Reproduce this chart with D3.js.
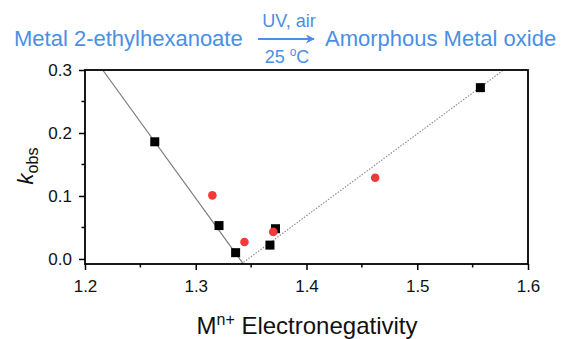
<!DOCTYPE html>
<html>
<head>
<meta charset="utf-8">
<script src="https://cdn.jsdelivr.net/npm/d3@7"></script>
<style>
  html, body { margin: 0; padding: 0; background: #fff; }
  svg { display: block; font-family: Arial, "Liberation Sans", sans-serif; }
</style>
</head>
<body>
<svg id="chart" width="561" height="339"></svg>
<script>
// Measured rate constants vs. metal-ion electronegativity
const squareX = [1.263, 1.321, 1.336, 1.367, 1.372, 1.557];
const squareY = [0.186, 0.053, 0.010, 0.022, 0.048, 0.272];
const circleX = [1.315, 1.344, 1.370, 1.462];
const circleY = [0.101, 0.027, 0.043, 0.129];

// Linear trend lines (endpoints in data units)
const fitLeftX = [1.216, 1.343];
const fitLeftY = [0.300, -0.008];
const fitRightX = [1.341, 1.578];
const fitRightY = [-0.008, 0.300];

const xTicks = [1.2, 1.3, 1.4, 1.5, 1.6];
const xMinor = [1.25, 1.35, 1.45, 1.55];
const yTicks = [0.0, 0.1, 0.2, 0.3];
const yMinor = [0.05, 0.15, 0.25];

const svg = d3.select("#chart");
const plotL = 85, plotR = 528, plotT = 70, plotB = 264;

const x = d3.scaleLinear().domain([1.2, 1.6]).range([plotL, plotR]);
const y = d3.scaleLinear().domain([-0.008, 0.3]).range([plotB, plotT]);

const blue = "#4a8fe3";

// Reaction scheme header
const head = svg.append("g").attr("fill", blue).style("font-size", "22px");
head.append("text").attr("x", 14).attr("y", 46).text("Metal 2-ethylhexanoate");
head.append("text").attr("x", 325).attr("y", 46).text("Amorphous Metal oxide");
head.append("text").attr("x", 289).attr("y", 27).attr("text-anchor", "middle")
  .style("font-size", "18px").text("UV, air");
const t25 = head.append("text").attr("x", 287).attr("y", 63).attr("text-anchor", "middle")
  .style("font-size", "18px");
t25.append("tspan").text("25 ");
t25.append("tspan").attr("dy", -7).style("font-size", "12px").text("o");
t25.append("tspan").attr("dy", 7).text("C");
svg.append("defs").append("marker")
  .attr("id", "arrowhead").attr("viewBox", "0 0 10 10")
  .attr("refX", 9).attr("refY", 5).attr("markerWidth", 11).attr("markerHeight", 9)
  .attr("markerUnits", "userSpaceOnUse").attr("orient", "auto")
  .append("path").attr("d", "M0,0 L10,5 L0,10 L3,5 Z").attr("fill", blue);
svg.append("line").attr("x1", 258).attr("x2", 314).attr("y1", 39).attr("y2", 39)
  .attr("stroke", blue).attr("stroke-width", 2).attr("marker-end", "url(#arrowhead)");

// Axes
const xAxis = d3.axisBottom(x).tickValues(xTicks).tickSize(6).tickPadding(10)
  .tickFormat(d3.format(".1f"));
const gx = svg.append("g").attr("transform", `translate(0,${plotB})`).call(xAxis);
const yAxis = d3.axisLeft(y).tickValues(yTicks).tickSize(6).tickPadding(7)
  .tickFormat(d3.format(".1f"));
const gy = svg.append("g").attr("transform", `translate(${plotL},0)`).call(yAxis);
[gx, gy].forEach(g => {
  g.select(".domain").remove();
  g.selectAll(".tick line").attr("stroke", "#000").attr("stroke-width", 1.5);
  g.selectAll(".tick text").attr("fill", "#111").style("font-size", "17px")
    .style("font-family", "Arial, 'Liberation Sans', sans-serif");
});
svg.append("g").selectAll("line").data(xMinor).join("line")
  .attr("x1", d => x(d)).attr("x2", d => x(d)).attr("y1", plotB).attr("y2", plotB + 3.5)
  .attr("stroke", "#000").attr("stroke-width", 1.5);
svg.append("g").selectAll("line").data(yMinor).join("line")
  .attr("x1", plotL).attr("x2", plotL - 3.5).attr("y1", d => y(d)).attr("y2", d => y(d))
  .attr("stroke", "#000").attr("stroke-width", 1.5);

// Trend lines
const line = d3.line().x(d => x(d[0])).y(d => y(d[1]));
svg.append("path").datum(d3.zip(fitLeftX, fitLeftY)).attr("d", line)
  .attr("fill", "none").attr("stroke", "#7a7a7a").attr("stroke-width", 1.2);
svg.append("path").datum(d3.zip(fitRightX, fitRightY)).attr("d", line)
  .attr("fill", "none").attr("stroke", "#8a8a8a").attr("stroke-width", 1.1)
  .attr("stroke-dasharray", "1.5,1.5");

// Frame
svg.append("rect").attr("x", plotL).attr("y", plotT)
  .attr("width", plotR - plotL).attr("height", plotB - plotT)
  .attr("fill", "none").attr("stroke", "#000").attr("stroke-width", 1.8);

// Markers
const sq = 9;
svg.append("g").selectAll("rect").data(d3.zip(squareX, squareY)).join("rect")
  .attr("x", d => x(d[0]) - sq / 2).attr("y", d => y(d[1]) - sq / 2)
  .attr("width", sq).attr("height", sq).attr("fill", "#000");
svg.append("g").selectAll("circle").data(d3.zip(circleX, circleY)).join("circle")
  .attr("cx", d => x(d[0])).attr("cy", d => y(d[1])).attr("r", 4.3).attr("fill", "#f23a3a");

// Axis titles
const xt = svg.append("text").attr("x", 307).attr("y", 334).attr("text-anchor", "middle")
  .attr("fill", "#111").style("font-size", "24px");
xt.append("tspan").text("M");
xt.append("tspan").attr("dy", -9).style("font-size", "16px").text("n+");
xt.append("tspan").attr("dy", 9).text(" Electronegativity");

const yt = svg.append("text").attr("transform", "translate(33,166) rotate(-90)")
  .attr("text-anchor", "middle").attr("fill", "#111").style("font-size", "22px");
yt.append("tspan").style("font-style", "italic").text("k");
yt.append("tspan").attr("dy", 5).style("font-size", "16px").text("obs");
</script>
</body>
</html>
